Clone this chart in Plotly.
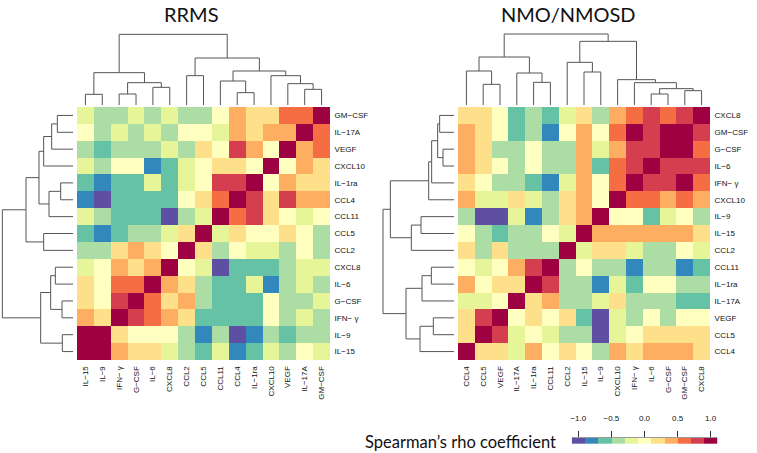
import plotly.graph_objects as go

W, H = 757, 453

# ---------------- data ----------------
rrms_cols = ["IL−15", "IL−9", "IFN− γ", "G−CSF", "IL−6", "CXCL8", "CCL2", "CCL5",
             "CCL11", "CCL4", "IL−1ra", "CXCL10", "VEGF", "IL−17A", "GM−CSF"]
rrms_rows = rrms_cols[::-1]
# rows listed top -> bottom, columns left -> right (Spearman rho)
rrms_rho = [
    [-0.2, -0.4, -0.4, -0.2, -0.4, -0.2, -0.4, -0.4, 0.0, 0.4, 0.2, 0.2, 0.6, 0.6, 1.0],
    [0.0, -0.4, -0.2, -0.4, -0.2, -0.4, 0.0, 0.0, -0.2, 0.4, 0.2, 0.4, 0.4, 1.0, 0.6],
    [-0.4, -0.6, -0.4, -0.4, -0.4, -0.2, -0.4, 0.2, 0.0, 0.8, 0.4, 0.0, 1.0, 0.4, 0.6],
    [-0.2, -0.4, 0.0, 0.0, -0.8, -0.6, -0.2, 0.0, 0.2, 0.2, 0.0, 1.0, 0.0, 0.4, 0.2],
    [-0.6, -0.8, -0.6, -0.6, -0.2, -0.6, -0.2, 0.0, 0.8, 0.8, 1.0, 0.0, 0.4, 0.2, 0.2],
    [-0.8, -0.93, -0.6, -0.6, -0.6, -0.6, 0.0, 0.2, 0.6, 1.0, 0.8, 0.2, 0.8, 0.4, 0.4],
    [-0.2, -0.4, -0.6, -0.6, -0.6, -0.93, -0.4, -0.2, 1.0, 0.6, 0.8, 0.2, 0.0, -0.2, 0.0],
    [-0.6, -0.8, -0.6, -0.4, -0.4, -0.2, 0.2, 1.0, -0.2, 0.2, 0.0, 0.0, 0.2, 0.0, -0.4],
    [-0.4, -0.4, 0.2, 0.4, 0.2, 0.0, 1.0, 0.2, -0.4, 0.0, -0.2, -0.2, -0.4, 0.0, -0.4],
    [-0.2, 0.0, 0.4, 0.2, 0.4, 1.0, 0.0, -0.2, -0.93, -0.6, -0.6, -0.6, -0.4, -0.2, -0.2],
    [0.2, 0.0, 0.6, 0.6, 1.0, 0.4, 0.2, -0.4, -0.6, -0.6, -0.2, -0.8, -0.4, -0.2, -0.4],
    [0.2, 0.0, 0.8, 1.0, 0.6, 0.2, 0.4, -0.4, -0.6, -0.6, -0.6, 0.0, -0.4, -0.4, -0.2],
    [0.4, 0.2, 1.0, 0.8, 0.6, 0.4, 0.2, -0.6, -0.6, -0.6, -0.6, 0.0, -0.4, -0.2, -0.4],
    [0.93, 1.0, 0.2, 0.0, 0.0, 0.0, -0.4, -0.8, -0.4, -0.93, -0.8, -0.4, -0.6, -0.4, -0.4],
    [1.0, 0.93, 0.4, 0.2, 0.2, -0.2, -0.4, -0.6, -0.2, -0.8, -0.6, -0.2, -0.4, 0.0, -0.2],
]
# hierarchical clustering tree: (left, right, merge height)
rrms_tree = (
    (("IL−15", "IL−9", 32), (("IFN− γ", "G−CSF", 33), ("IL−6", "CXCL8", 53), 67), 97),
    (("CCL2", "CCL5", 88),
     (("CCL11", ("CCL4", "IL−1ra", 37), 72),
      ("CXCL10", ("VEGF", ("IL−17A", "GM−CSF", 47), 64), 88), 102), 141),
    212)

nmo_cols = ["CCL4", "CCL5", "VEGF", "IL−17A", "IL−1ra", "CCL11", "CCL2", "IL−15",
            "IL−9", "CXCL10", "IFN− γ", "IL−6", "G−CSF", "GM−CSF", "CXCL8"]
nmo_rows = nmo_cols[::-1]
nmo_rho = [
    [0.2, 0.2, 0.0, -0.6, -0.4, -0.6, -0.2, 0.2, -0.4, 0.4, 0.6, 0.8, 0.6, 0.8, 1.0],
    [0.4, 0.2, 0.0, -0.6, -0.4, -0.8, 0.0, 0.4, 0.0, 0.6, 0.93, 0.8, 0.93, 1.0, 0.8],
    [0.4, 0.2, -0.4, -0.4, 0.0, -0.4, -0.4, 0.4, -0.2, 0.4, 0.8, 0.8, 1.0, 0.93, 0.6],
    [0.4, 0.2, 0.0, -0.4, 0.0, -0.4, -0.4, 0.4, -0.6, 0.6, 0.8, 1.0, 0.8, 0.8, 0.8],
    [0.2, 0.0, -0.4, -0.4, -0.6, -0.8, -0.2, 0.4, 0.0, 0.6, 1.0, 0.8, 0.8, 0.93, 0.6],
    [0.4, -0.2, -0.2, 0.2, -0.2, -0.4, 0.2, 0.4, 0.0, 1.0, 0.6, 0.6, 0.4, 0.6, 0.4],
    [-0.4, -0.93, -0.93, -0.2, -0.8, -0.4, 0.2, 0.4, 1.0, 0.0, 0.0, -0.6, -0.2, 0.0, -0.4],
    [0.0, -0.4, -0.6, -0.4, -0.4, 0.0, -0.2, 1.0, 0.4, 0.4, 0.4, 0.4, 0.4, 0.4, 0.2],
    [0.2, -0.4, 0.2, -0.4, -0.4, -0.4, 1.0, -0.2, 0.2, 0.2, -0.2, -0.4, -0.4, 0.0, -0.2],
    [0.0, -0.2, 0.0, 0.4, 0.8, 1.0, -0.4, 0.0, -0.4, -0.4, -0.8, -0.4, -0.4, -0.8, -0.6],
    [0.4, 0.0, 0.2, 0.2, 1.0, 0.8, -0.4, -0.4, -0.8, -0.2, -0.6, 0.0, 0.0, -0.4, -0.4],
    [-0.2, -0.2, 0.0, 1.0, 0.2, 0.4, -0.4, -0.4, -0.2, 0.2, -0.4, -0.4, -0.4, -0.6, -0.6],
    [0.2, 0.8, 1.0, 0.0, 0.2, 0.0, 0.2, -0.6, -0.93, -0.2, -0.4, 0.0, -0.4, 0.0, 0.0],
    [0.2, 1.0, 0.8, -0.2, 0.0, -0.2, -0.4, -0.4, -0.93, -0.2, 0.0, 0.2, 0.2, 0.2, 0.2],
    [1.0, 0.2, 0.2, -0.2, 0.4, 0.0, 0.2, 0.0, -0.4, 0.4, 0.2, 0.4, 0.4, 0.4, 0.2],
]
nmo_tree = (
    (("CCL4", ("CCL5", "VEGF", 62), 102), ("IL−17A", ("IL−1ra", "CCL11", 68), 96), 144),
    (("CCL2", ("IL−15", "IL−9", 99), 128),
     ("CXCL10", ("IFN− γ", (("IL−6", "G−CSF", 33), ("GM−CSF", "CXCL8", 43), 49), 67), 76), 191),
    213)

legend_vals = [-1.0, -0.8, -0.6, -0.4, -0.2, 0.0, 0.2, 0.4, 0.6, 0.8, 1.0]
legend_ticks = [-1.0, -0.5, 0.0, 0.5, 1.0]
legend_ticktext = ["−1.0", "−0.5", "0.0", "0.5", "1.0"]

# ---------------- styling ----------------
spectral = ["#5E4FA2", "#3288BD", "#66C2A5", "#ABDDA4", "#E6F598", "#FFFFBF",
            "#FEE08B", "#FDAE61", "#F46D43", "#D53E4F", "#9E0142"]
cscale = []
for i, c in enumerate(spectral):
    cscale.append([i / 11, c])
    cscale.append([(i + 1) / 11, c])
ZMIN, ZMAX = -1.1, 1.1
LINE = "#555555"
TICKFONT = dict(family="Liberation Sans, Arial, sans-serif", size=8, color="#111")
TITLEFONT = "Lato, Noto Sans, sans-serif"


def px_x(p):
    return min(1.0, max(0.0, p / W))


def px_y(p):
    return min(1.0, max(0.0, 1 - p / H))


def dendro_lines(tree, pos):
    xs, hs = [], []

    def rec(node):
        if isinstance(node, str):
            return pos[node], 0.0
        a, b, h = node
        pa, ha = rec(a)
        pb, hb = rec(b)
        xs.extend([pa, pa, pb, pb, None])
        hs.extend([ha, h, h, hb, None])
        return (pa + pb) / 2, h

    rec(tree)
    return xs, hs


fig = go.Figure()


def add_panel(cols, rows, rho, tree, hm_x0, hm_x1, ax_ids):
    xa, ya, xd, yd, xr, yr = ax_ids
    n = len(cols)
    idx = list(range(n))
    fig.add_trace(go.Heatmap(z=rho, x=idx, y=idx, zmin=ZMIN, zmax=ZMAX, colorscale=cscale,
                             showscale=False, xaxis="x" + xa, yaxis="y" + ya, hoverinfo="skip"))
    colpos = {c: i for i, c in enumerate(cols)}
    xs, hs = dendro_lines(tree, colpos)
    fig.add_trace(go.Scatter(x=xs, y=hs, mode="lines", line=dict(color=LINE, width=1),
                             xaxis="x" + xd, yaxis="y" + yd, hoverinfo="skip", showlegend=False))
    rowpos = {r: i for i, r in enumerate(rows)}
    ys, hs2 = dendro_lines(tree, rowpos)
    fig.add_trace(go.Scatter(x=hs2, y=ys, mode="lines", line=dict(color=LINE, width=1),
                             xaxis="x" + xr, yaxis="y" + yr, hoverinfo="skip", showlegend=False))

    hid = dict(visible=False, showgrid=False, zeroline=False)
    hm_dom_x = [px_x(hm_x0), px_x(hm_x1)]
    hm_dom_y = [px_y(360), px_y(107)]
    fig.layout["xaxis" + xa] = dict(
        domain=hm_dom_x, range=[-0.5, n - 0.5], anchor="y" + ya, tickvals=idx, ticktext=cols,
        tickangle=-90, tickfont=TICKFONT, showgrid=False, zeroline=False, ticks="outside",
        ticklen=2, tickcolor="rgba(0,0,0,0)", showline=False)
    fig.layout["yaxis" + ya] = dict(
        domain=hm_dom_y, range=[n - 0.5, -0.5], anchor="x" + xa, side="right", tickvals=idx,
        ticktext=rows, tickfont=TICKFONT, showgrid=False, zeroline=False, ticks="outside",
        ticklen=2, tickcolor="rgba(0,0,0,0)", showline=False)
    fig.layout["xaxis" + xd] = dict(domain=hm_dom_x, range=[-0.5, n - 0.5], anchor="y" + yd, **hid)
    fig.layout["yaxis" + yd] = dict(domain=[px_y(105), px_y(30)], range=[0, 225], anchor="x" + xd, **hid)
    # row dendrogram: leaves 4 px left of the heatmap, 1 px per 3 height units
    leaf_px = hm_x0 - 4
    left_px = max(0, leaf_px - 73)
    fig.layout["xaxis" + xr] = dict(domain=[px_x(left_px), px_x(leaf_px)],
                                    range=[(leaf_px - left_px) * 3, 0], anchor="y" + yr, **hid)
    fig.layout["yaxis" + yr] = dict(domain=hm_dom_y, range=[n - 0.5, -0.5], anchor="x" + xr, **hid)


add_panel(rrms_cols, rrms_rows, rrms_rho, rrms_tree, 77, 330, ("", "", "2", "2", "3", "3"))
add_panel(nmo_cols, nmo_rows, nmo_rho, nmo_tree, 458, 710, ("4", "4", "5", "5", "6", "6"))

# colour key
fig.add_trace(go.Heatmap(z=[legend_vals], x=legend_vals, y=[0], zmin=ZMIN, zmax=ZMAX,
                         colorscale=cscale, showscale=False, xaxis="x7", yaxis="y7",
                         hoverinfo="skip"))
fig.layout["xaxis7"] = dict(domain=[px_x(571.7), px_x(717.3)], range=[-1.1, 1.1], anchor="y7",
                            side="top", tickvals=legend_ticks, ticktext=legend_ticktext,
                            ticks="outside", ticklen=6, tickcolor="#333", tickwidth=1,
                            ticklabelstandoff=7,
                            tickfont=TICKFONT, showgrid=False, zeroline=False,
                            showline=True, linecolor="#999", linewidth=1)
fig.layout["yaxis7"] = dict(domain=[px_y(444), px_y(437.7)], range=[-0.5, 0.5], anchor="x7",
                            visible=False)

fig.add_annotation(text="RRMS", x=px_x(191), y=px_y(14), xref="paper", yref="paper",
                   xanchor="center", yanchor="middle", showarrow=False,
                   font=dict(family=TITLEFONT, size=20, color="#111"))
fig.add_annotation(text="NMO/NMOSD", x=px_x(568), y=px_y(14), xref="paper", yref="paper",
                   xanchor="center", yanchor="middle", showarrow=False,
                   font=dict(family=TITLEFONT, size=20, color="#111"))
fig.add_annotation(text="Spearman’s rho coefficient", x=px_x(558), y=px_y(442), xref="paper",
                   yref="paper", xanchor="right", yanchor="middle", showarrow=False,
                   font=dict(family=TITLEFONT, size=16.5, color="#111"))

fig.update_layout(width=W, height=H, margin=dict(l=0, r=0, t=0, b=0),
                  paper_bgcolor="white", plot_bgcolor="white", showlegend=False)

fig.write_html("out.html", config={"displayModeBar": False},
               post_script="document.body.style.margin='0px';")
